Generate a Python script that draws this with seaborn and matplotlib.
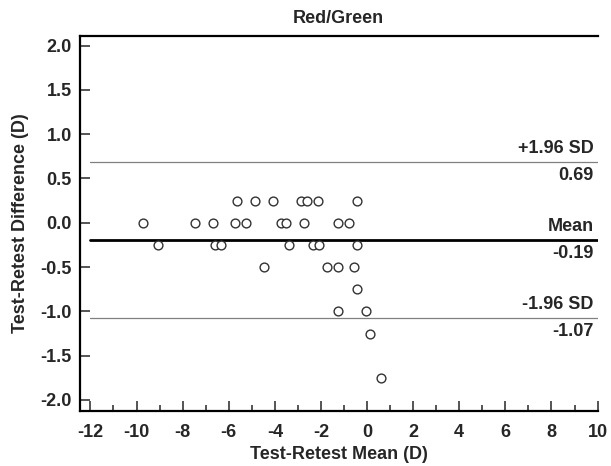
import matplotlib
matplotlib.use("Agg")
import matplotlib.pyplot as plt
import numpy as np
import pandas as pd
import seaborn as sns
from matplotlib.ticker import MultipleLocator, FormatStrFormatter

# ── data ─────────────────────────────────────────────────────────────────────
mean_vals = [
    -5.64, -4.87, -4.10, -2.86, -2.60, -2.14, -0.43,
    -9.70, -7.48, -6.70, -5.73, -5.26, -3.72, -3.50, -2.73, -1.28, -0.77,
    -9.06, -6.58, -6.32, -3.38, -2.35, -2.09, -0.43,
    -4.49, -1.75, -1.28, -0.55,
    -0.43,
    -1.28, -0.04,
    0.13,
    0.60,
]
diff_vals = [
    0.25, 0.25, 0.25, 0.25, 0.25, 0.25, 0.25,
    0.0, 0.0, 0.0, 0.0, 0.0, 0.0, 0.0, 0.0, 0.0, 0.0,
    -0.25, -0.25, -0.25, -0.25, -0.25, -0.25, -0.25,
    -0.5, -0.5, -0.5, -0.5,
    -0.75,
    -1.0, -1.0,
    -1.25,
    -1.75,
]
bias = -0.19
upper_loa = 0.69
lower_loa = -1.07

df = pd.DataFrame({"mean": mean_vals, "diff": diff_vals})

sns.set_style("ticks")
plt.rcParams["font.family"] = ["Liberation Sans", "DejaVu Sans"]
plt.rcParams["font.weight"] = "bold"
plt.rcParams["axes.unicode_minus"] = False

fig = plt.figure(figsize=(6.11, 4.66), dpi=100)
ax = fig.add_axes([0.131, 0.118, 0.847, 0.805])

sns.scatterplot(
    data=df, x="mean", y="diff", ax=ax,
    marker="o", s=40, facecolor="white", edgecolor="#333333", linewidth=1.0,
    zorder=3,
)

x0, x1 = -12, 10
ax.plot([x0, x1], [upper_loa, upper_loa], color="#808080", lw=0.9, zorder=2)
ax.plot([x0, x1], [lower_loa, lower_loa], color="#808080", lw=0.9, zorder=2)
ax.plot([x0, x1], [bias, bias], color="black", lw=2.0, zorder=2)

lbl = dict(ha="right", fontsize=13, fontweight="bold", textcoords="offset points")
for yv, top, bottom in [
    (upper_loa, "+1.96 SD", f"{upper_loa:.2f}"),
    (bias, "Mean", f"{bias:.2f}"),
    (lower_loa, "-1.96 SD", f"{lower_loa:.2f}"),
]:
    ax.annotate(top, (x1, yv), xytext=(-3, 3), va="bottom", **lbl)
    ax.annotate(bottom, (x1, yv), xytext=(-3, -4), va="top", **lbl)

ax.set_xlim(-12.45, 10.0)
ax.set_ylim(-2.125, 2.11)
ax.xaxis.set_major_locator(MultipleLocator(2))
ax.xaxis.set_minor_locator(MultipleLocator(1))
ax.yaxis.set_major_locator(MultipleLocator(0.5))
ax.yaxis.set_major_formatter(FormatStrFormatter("%.1f"))

ax.tick_params(axis="both", which="major", direction="in", length=7.5, width=1.1,
               labelsize=13, pad=6)
ax.tick_params(axis="x", which="major", pad=9)
ax.tick_params(axis="x", which="minor", direction="in", length=4, width=1.1)
for t in ax.get_xticklabels() + ax.get_yticklabels():
    t.set_fontweight("bold")

for side in ["left", "bottom", "top"]:
    ax.spines[side].set_linewidth(1.6)
    ax.spines[side].set_color("black")
ax.spines["right"].set_visible(False)

ax.set_xlabel("Test-Retest Mean (D)", fontsize=13, fontweight="bold", labelpad=4)
ax.set_ylabel("Test-Retest Difference (D)", fontsize=13, fontweight="bold", labelpad=8)
ax.set_title("Red/Green", fontsize=13, fontweight="bold", pad=9)

fig.savefig("out.png", dpi=100)
